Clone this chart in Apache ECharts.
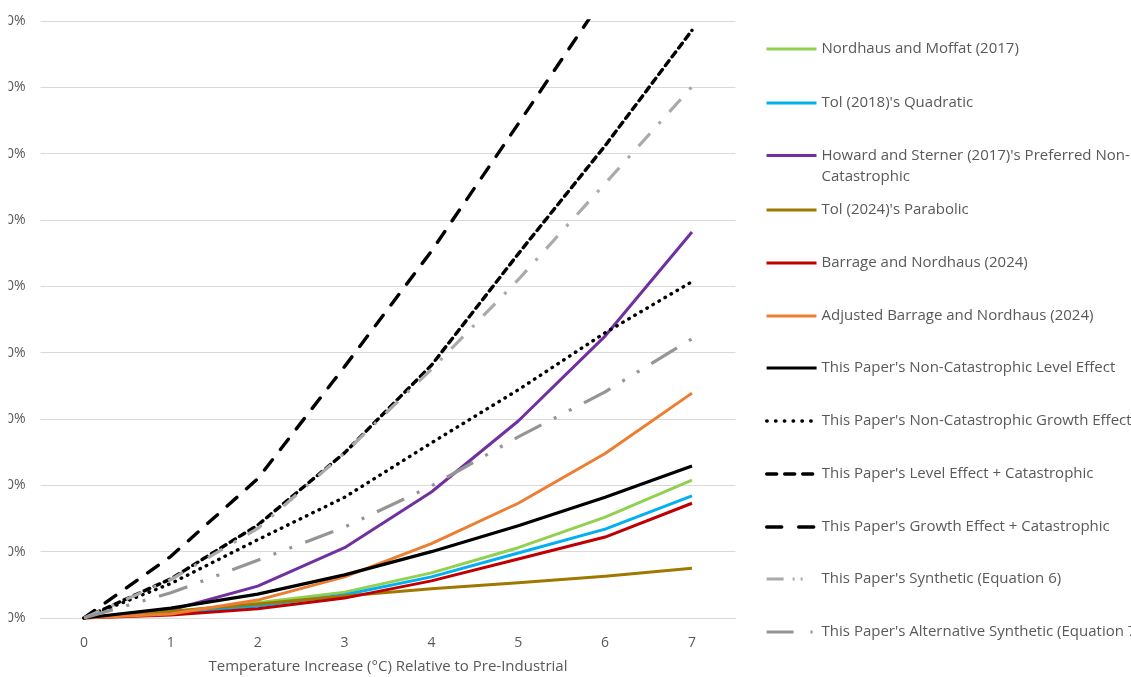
<!DOCTYPE html>
<html>
<head>
<meta charset="utf-8">
<script src="https://cdn.jsdelivr.net/npm/echarts@6/dist/echarts.min.js"></script>
<style>
html,body{margin:0;padding:0;background:#fff;}
#chart{width:1131px;height:677px;}
</style>
</head>
<body>
<div id="chart"></div>
<script>
// ---- data (damage, % of output) ----
var temps = ['0','1','2','3','4','5','6','7'];
var yTicks = [0,10,20,30,40,50,60,70,80,90];

var nordhausMoffat   = [0, 0.9, 2.3, 3.9, 6.8, 10.6, 15.2, 20.8];
var tolQuadratic     = [0, 0.75, 1.8, 3.5, 6.2, 9.8, 13.4, 18.4];
var howardSterner    = [0, 1.2, 4.8, 10.6, 19.0, 29.7, 42.5, 58.2];
var tolParabolic     = [0, 1.0, 2.1, 3.3, 4.4, 5.3, 6.3, 7.5];
var barrageNordhaus  = [0, 0.45, 1.4, 3.0, 5.6, 8.9, 12.2, 17.3];
var adjBarrage       = [0, 0.6, 2.7, 6.2, 11.2, 17.3, 24.8, 33.9];
var levelNonCat      = [0, 1.5, 3.6, 6.5, 10.0, 13.9, 18.2, 22.9];
var growthNonCat     = [0, 5.2, 11.8, 18.2, 26.4, 34.4, 43.0, 50.7];
var levelCat         = [0, 5.9, 14.0, 24.9, 38.1, 54.9, 71.2, 88.6];
var growthCat        = [0, 9.3, 21.0, 37.9, 55.3, 74.5, 93.9, 115];
var synthetic        = [0, 5.8, 13.5, 24.9, 37.5, 51.0, 65.5, 80.1];
var altSynthetic     = [0, 3.8, 8.7, 13.7, 19.9, 27.3, 34.1, 42.1];

var names = [
  'Nordhaus and Moffat (2017)',
  "Tol (2018)'s Quadratic",
  "Howard and Sterner (2017)'s Preferred Non-\nCatastrophic",
  "Tol (2024)'s Parabolic",
  'Barrage and Nordhaus (2024)',
  'Adjusted Barrage and Nordhaus (2024)',
  "This Paper's Non-Catastrophic Level Effect",
  "This Paper's Non-Catastrophic Growth Effect",
  "This Paper's Level Effect + Catastrophic",
  "This Paper's Growth Effect + Catastrophic",
  "This Paper's Synthetic (Equation 6)",
  "This Paper's Alternative Synthetic (Equation 7)"
];
var values = [nordhausMoffat, tolQuadratic, howardSterner, tolParabolic, barrageNordhaus, adjBarrage,
              levelNonCat, growthNonCat, levelCat, growthCat, synthetic, altSynthetic];

var styles = [
  {color:'#92d050', width:3, type:'solid'},
  {color:'#00b0f0', width:3, type:'solid'},
  {color:'#7030a0', width:3, type:'solid'},
  {color:'#a07800', width:3, type:'solid'},
  {color:'#c00000', width:3, type:'solid'},
  {color:'#ed7d31', width:3, type:'solid'},
  {color:'#000000', width:3.2, type:'solid'},
  {color:'#000000', width:3.4, type:[0.5,6.5], cap:'round', legendType:[0.5,8.3]},
  {color:'#000000', width:3.4, type:[6,5], cap:'round', legendType:[10,8]},
  {color:'#000000', width:3.4, type:[13,13], cap:'round', legendType:[15,17]},
  {color:'#aaaaaa', width:3.2, type:[17,13,3,13], legendType:[17,9,2,6,2,14]},
  {color:'#959595', width:3.2, type:[30,14,3,14,3,14], legendType:[27,17,2,10]}
];

var series = names.map(function(n,i){
  var s = styles[i];
  return {
    name: n, type: 'line', data: values[i], symbol: 'none', smooth: false,
    clip: true,
    lineStyle: {color: s.color, width: s.width, type: s.type, cap: s.cap || 'butt', join:'round'},
    itemStyle: {color: s.color},
    z: 2
  };
});

var legendCenters = [49,103,156,210,263,316,368,421,474,527,579,632];
var legends = names.map(function(n,i){
  var multi = n.indexOf('\n') >= 0;
  var s = styles[i];
  return {
    data: [n], orient: 'vertical', left: 765,
    top: multi ? legendCenters[i] - 32 : legendCenters[i] - 10.5,
    padding: 0, itemWidth: 50, itemHeight: 14, itemGap: 0,
    selectedMode: false,
    itemStyle: {opacity: 0},
    lineStyle: {width: 'inherit', opacity: 1, type: s.legendType || 'inherit'},
    formatter: multi ? function(t){ return '\n' + t; } : null,
    textStyle: {color:'#595959', fontSize:15, fontFamily:'Open Sans', lineHeight:21}
  };
});

var chart = echarts.init(document.getElementById('chart'), null, {renderer:'canvas'});
chart.setOption({
  backgroundColor: '#ffffff',
  animation: false,
  grid: {left: 40.6, right: 395.6, top: 21, bottom: 59, containLabel: false, outerBoundsMode: 'none'},
  xAxis: {
    type: 'category', data: temps, boundaryGap: true,
    axisLine: {show: true, lineStyle: {color:'#d9d9d9', width:1}},
    axisTick: {show: false},
    axisLabel: {color:'#595959', fontSize:14, fontFamily:'Open Sans', margin:18},
    name: 'Temperature Increase (\u00B0C) Relative to Pre-Industrial',
    nameLocation: 'middle', nameGap: 41,
    nameTextStyle: {color:'#595959', fontSize:15, fontFamily:'Open Sans'}
  },
  yAxis: {
    type: 'value', min: yTicks[0], max: yTicks[yTicks.length-1], interval: yTicks[1]-yTicks[0],
    axisLine: {show:false}, axisTick: {show:false},
    splitLine: {lineStyle: {color:'#d9d9d9', width:1}},
    axisLabel: {color:'#595959', fontSize:14, fontFamily:'Open Sans', margin:15, formatter:'{value}%'}
  },
  legend: legends,
  series: series,
  graphic: [{type:'rect', left:0, top:0, shape:{width:8.5, height:640}, style:{fill:'#ffffff'}, z:100}]
});
</script>
</body>
</html>
